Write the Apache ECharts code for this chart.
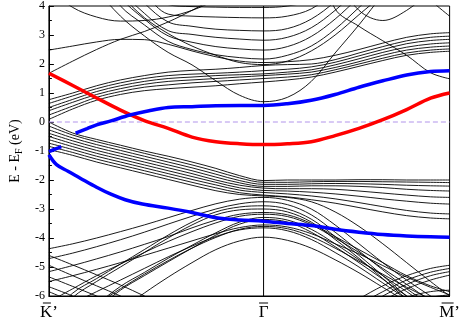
<!DOCTYPE html>
<html><head><meta charset="utf-8">
<script src="https://cdn.jsdelivr.net/npm/echarts@6/dist/echarts.min.js"></script>
<style>html,body{margin:0;padding:0;background:#fff}#c{width:463px;height:321px}</style>
</head><body><div id="c"></div>
<script>
// k-path positions (arbitrary distance units): K' = 0, Gamma = 225, M' = 420
const kGrid = [0,25,50,75,100,125,150,175,200,225,250,275,300,325,350,375,400,420];
const kPoints = [0, 225, 420];
const kLetters = ["K\u2019", "\u0393", "M\u2019"];
const yTicks = [-6,-5,-4,-3,-2,-1,0,1,2,3,4];
const fermiE = 0;

// highlighted bands
const redK = [0,25,50,75,100,125,150,175,200,225,250,275,300,325,350,375,400,420];
const redE = [1.68,1.26,0.83,0.41,0.05,-0.22,-0.52,-0.68,-0.75,-0.78,-0.75,-0.68,-0.47,-0.22,0.08,0.43,0.82,1.0];
const blueUpK1 = [0,7,13];
const blueUpE1 = [-1.02,-0.93,-0.85];
const blueUpK2 = [28,40,50,65,85,105,125,150,175,200,225,250,275,300,325,350,375,400,420];
const blueUpE2 = [-0.38,-0.23,-0.1,0.04,0.24,0.39,0.50,0.53,0.56,0.57,0.57,0.63,0.75,0.95,1.2,1.42,1.62,1.74,1.77];
const blueLoK = [0,8,20,32,50,65,80,98,125,150,175,200,225,250,275,300,325,350,375,400,420];
const blueLoE = [-1.13,-1.47,-1.7,-1.92,-2.25,-2.49,-2.68,-2.83,-2.97,-3.12,-3.3,-3.38,-3.42,-3.5,-3.57,-3.7,-3.8,-3.88,-3.93,-3.96,-3.97];

// black bands, energies on kGrid (values outside -6..4 run off the frame)
const C1 = [0.09,0.45,0.75,0.95,1.08,1.15,1.2,1.25,1.32,1.38,1.45,1.55,1.72,1.92,2.12,2.3,2.4,2.44];
const C2 = [0.24,0.55,0.85,1.05,1.2,1.28,1.35,1.4,1.45,1.5,1.55,1.63,1.8,2.0,2.2,2.38,2.48,2.52];
const C3 = [0.39,0.68,0.95,1.15,1.3,1.4,1.45,1.5,1.55,1.6,1.65,1.72,1.88,2.08,2.3,2.48,2.58,2.62];
const C4 = [0.50,0.78,1.05,1.25,1.4,1.5,1.55,1.6,1.63,1.66,1.72,1.8,1.97,2.18,2.4,2.58,2.69,2.73];
const C5 = [0.64,0.9,1.15,1.35,1.5,1.6,1.65,1.68,1.72,1.77,1.82,1.9,2.06,2.28,2.5,2.7,2.81,2.85];
const C6 = [0.77,1.0,1.25,1.45,1.6,1.72,1.78,1.82,1.88,1.95,1.98,2.0,2.15,2.38,2.6,2.8,2.92,2.96];
const C7 = [1.68,2.1,2.5,2.85,3.12,3.45,3.85,4.3,4.8,5.2,5.5,6,6,6,6,6,6,6];
const C8 = [2.48,2.62,2.76,2.85,2.84,2.68,2.45,2.25,2.1,2.05,2.08,2.15,2.3,2.5,2.72,2.92,3.04,3.08];
const U1 = [4.6,3.95,3.62,3.48,3.5,3.62,3.85,4.2,4.6,5,5.5,6,6,6,6,6,6,6];
const D1 = [6,6,6,6,6,6,6,6,6,6,6,6,3.9,3.3,2.8,2.3,1.7,1.49];
const D2 = [6,6,6,6,6,6,6,6,6,6,6,6,6,6,6,5,4.2,3.65];
const D3 = [6,6,6,6,6,6,6,6,6,6,6,6,5,3.85,3.5,3.85,4.5,5];
const P0 = [7,6,4.6,3.65,2.97,2.4,1.97,1.42,0.92,0.7,0.85,1.4,2.38,3.35,4.4,5.4,6.2,7];
const P1 = [6,6,5.2,4.0,3.35,2.78,2.5,2.32,2.22,2.17,2.3,2.62,3.2,3.95,4.7,5.4,6,6];
const P2 = [6,6,5.6,4.3,3.55,2.97,2.75,2.6,2.52,2.48,2.6,2.95,3.55,4.3,5,5.6,6,6];
const P3 = [6,6,6,4.6,3.75,3.15,3.02,2.92,2.86,2.82,2.92,3.25,3.85,4.6,5.3,6,6,6];
const P4 = [6,6,6,5,4.1,3.45,3.3,3.2,3.16,3.14,3.22,3.55,4.15,4.9,5.6,6,6,6];
const P5 = [6,6,6,5.4,4.45,3.72,3.65,3.62,3.6,3.59,3.65,3.9,4.5,5.2,6,6,6,6];
const P6 = [6,6,6,5.8,4.8,4.05,3.98,3.96,3.95,3.95,4.0,4.2,4.8,5.5,6,6,6,6];
const P7 = [6,6,5.4,4.4,3.6,3.05,2.62,2.3,2.05,1.98,2.1,2.45,3.0,3.7,4.4,5.2,6,6];
const V1 = [0.0,-0.38,-0.6,-0.8,-1.0,-1.18,-1.38,-1.6,-1.85,-2.02,-2.0,-2.0,-2.0,-1.99,-1.99,-2.0,-2.0,-2.0];
const V2 = [-0.14,-0.45,-0.68,-0.88,-1.08,-1.28,-1.48,-1.7,-1.93,-2.08,-2.08,-2.06,-2.05,-2.05,-2.06,-2.07,-2.08,-2.09];
const V3 = [-0.27,-0.55,-0.78,-0.98,-1.18,-1.38,-1.58,-1.8,-2.02,-2.15,-2.15,-2.13,-2.12,-2.13,-2.15,-2.18,-2.2,-2.21];
const V4 = [-0.39,-0.65,-0.88,-1.08,-1.28,-1.48,-1.68,-1.9,-2.1,-2.22,-2.22,-2.2,-2.2,-2.22,-2.26,-2.32,-2.36,-2.38];
const V5 = [-0.5,-0.75,-0.98,-1.18,-1.38,-1.58,-1.78,-2.0,-2.18,-2.28,-2.3,-2.3,-2.32,-2.38,-2.45,-2.52,-2.58,-2.6];
const V6 = [-0.61,-0.85,-1.08,-1.28,-1.48,-1.68,-1.88,-2.08,-2.27,-2.36,-2.38,-2.42,-2.48,-2.56,-2.65,-2.73,-2.8,-2.83];
const V7 = [-0.73,-0.95,-1.18,-1.38,-1.58,-1.78,-1.98,-2.17,-2.35,-2.43,-2.48,-2.55,-2.65,-2.78,-2.92,-3.05,-3.14,-3.17];
const V8 = [-0.84,-1.05,-1.28,-1.48,-1.68,-1.88,-2.08,-2.27,-2.44,-2.52,-2.58,-2.68,-2.8,-2.95,-3.1,-3.23,-3.31,-3.34];
const V9 = [-0.95,-1.15,-1.38,-1.58,-1.78,-1.98,-2.18,-2.37,-2.5,-2.55,-2.6,-2.75,-3.1,-3.6,-4.2,-4.85,-5.5,-6.0];
const W1 = [-4.37,-4.2,-4.0,-3.78,-3.55,-3.3,-3.05,-2.82,-2.66,-2.6,-2.7,-3.0,-3.55,-4.2,-4.85,-5.45,-6.0,-6.4];
const W2 = [-4.71,-4.52,-4.3,-4.06,-3.8,-3.52,-3.25,-3.0,-2.82,-2.75,-2.85,-3.2,-3.8,-4.45,-5.1,-5.75,-6.3,-6.7];
const W3 = [-6.8,-5.9,-5.4,-4.9,-4.4,-3.9,-3.45,-3.1,-2.93,-2.89,-3.0,-3.35,-3.95,-4.6,-5.3,-6.0,-6.6,-7];
const W4 = [-7,-6.05,-5.5,-5.0,-4.5,-4.0,-3.55,-3.2,-3.03,-3.0,-3.1,-3.45,-4.05,-4.7,-5.4,-6.1,-6.7,-7];
const W5 = [-5.16,-4.95,-4.72,-4.48,-4.22,-3.95,-3.65,-3.38,-3.18,-3.12,-3.2,-3.5,-3.95,-4.4,-4.85,-5.3,-5.65,-5.85];
const W6 = [-8,-7.5,-6.35,-5.67,-5.19,-4.7,-4.25,-3.82,-3.45,-3.29,-3.38,-3.7,-4.2,-4.75,-5.3,-5.85,-6.4,-6.8];
const W7 = [-8,-7.6,-6.5,-5.8,-5.3,-4.82,-4.35,-3.9,-3.52,-3.36,-3.45,-3.8,-4.3,-4.85,-5.42,-6.0,-6.5,-6.9];
const W8 = [-5.5,-5.3,-5.08,-4.85,-4.6,-4.35,-4.1,-3.85,-3.64,-3.55,-3.62,-3.85,-4.2,-4.55,-4.95,-5.35,-5.7,-5.96];
const W9 = [-6.2,-5.75,-5.3,-4.9,-4.5,-4.12,-3.78,-3.48,-3.25,-3.18,-3.26,-3.55,-4.0,-4.5,-5.05,-5.6,-6.15,-6.5];
const W10 = [-7.4,-6.9,-6.3,-5.75,-5.25,-4.78,-4.35,-3.98,-3.7,-3.6,-3.68,-3.95,-4.35,-4.8,-5.25,-5.7,-6.1,-6.4];
const W11 = [-6.6,-6.25,-5.85,-5.45,-5.05,-4.65,-4.28,-3.95,-3.72,-3.65,-3.75,-4.05,-4.5,-5.0,-5.55,-6.1,-6.6,-7];
const L1 = [-9,-8,-7.2,-6.5,-5.9,-5.35,-4.85,-4.4,-4.1,-3.97,-4.08,-4.35,-4.75,-5.2,-5.7,-6.2,-6.7,-7];
const DL1 = [-4.6,-4.93,-5.27,-5.62,-6.0,-6.4,-6.8,-7.1,-7.3,-7.4,-7.3,-7.0,-6.6,-6.1,-5.65,-5.3,-5.05,-4.94];
const DL2 = [-4.94,-5.3,-5.65,-6.0,-6.4,-6.8,-7.1,-7.3,-7.5,-7.6,-7.5,-7.2,-6.8,-6.3,-5.85,-5.45,-5.18,-5.05];
const DL3 = [-5.34,-5.67,-6.0,-6.35,-6.7,-7,-7.3,-7.5,-7.6,-7.7,-7.6,-7.4,-7.0,-6.5,-6.0,-5.6,-5.3,-5.16];
const DL4 = [-5.68,-6.0,-6.35,-6.7,-7,-7.3,-7.5,-7.7,-7.8,-7.8,-7.8,-7.6,-7.3,-6.9,-6.45,-6.05,-5.85,-5.8];
const DL5 = [-5.85,-6.2,-6.55,-6.9,-7.2,-7.5,-7.7,-7.8,-7.9,-7.9,-7.9,-7.8,-7.5,-7.1,-6.7,-6.3,-6.05,-5.96];
const DL6 = [-8,-7.8,-7.6,-7.4,-7.2,-7.1,-7.0,-7.0,-7.0,-7.0,-7.0,-6.95,-6.8,-6.5,-6.15,-5.75,-5.45,-5.28];

const blackBands = [C1,C2,C3,C4,C5,C6,C7,C8,U1,D1,D2,D3,P0,P1,P2,P3,P4,P5,P6,P7,
  V1,V2,V3,V4,V5,V6,V7,V8,V9,W1,W2,W3,W4,W5,W6,W7,W8,W9,W10,W11,L1,
  DL1,DL2,DL3,DL4,DL5,DL6];

const serif = 'Liberation Serif';
const zip = (ks, es) => ks.map((k, i) => [k, es[i]]);

const series = [];
blackBands.forEach(b => series.push({
  type: 'line', data: zip(kGrid, b), smooth: 0.35, showSymbol: false, silent: true,
  clip: true, z: 2, color: '#000', lineStyle: { color: '#000', width: 0.9 }
}));
// Gamma vertical line
series.push({
  type: 'line', data: [[kPoints[1], yTicks[0]], [kPoints[1], yTicks[yTicks.length - 1]]],
  showSymbol: false, silent: true, z: 3, color: '#000', lineStyle: { color: '#000', width: 1 }
});
// Fermi level
series.push({
  type: 'line', data: [[kPoints[0], fermiE], [kPoints[2], fermiE]],
  showSymbol: false, silent: true, z: 3, color: '#b194ea',
  lineStyle: { color: '#b194ea', width: 1, type: [5, 3] }
});
const colored = [[redK, redE, '#ff0000'], [blueUpK1, blueUpE1, '#0000ff'], [blueUpK2, blueUpE2, '#0000ff'], [blueLoK, blueLoE, '#0000ff']];
colored.forEach(([ks, es, c]) => series.push({
  type: 'line', data: zip(ks, es), smooth: 0.35, showSymbol: false, silent: true,
  clip: true, z: 4, color: c, lineStyle: { color: c, width: 3.5 }
}));

const barRich = {
  bk: { width: 8, height: 1, backgroundColor: '#000', lineHeight: 6 },
  bg: { width: 9, height: 1, backgroundColor: '#000', lineHeight: 6 },
  bm: { width: 12, height: 1, backgroundColor: '#000', lineHeight: 6 },
  sp: { width: 4, height: 1, lineHeight: 6 },
  t: { fontFamily: serif, fontSize: 17, color: '#000', lineHeight: 13 }
};
const barTag = ['{bk|}{sp|}', '{bg|}', '{bm|}{sp|}'];

const chart = echarts.init(document.getElementById('c'), null, { renderer: 'canvas' });
chart.setOption({
  animation: false,
  backgroundColor: '#fff',
  grid: { left: 35, right: 8, top: 5, bottom: 23, show: true, borderColor: '#000', borderWidth: 1, backgroundColor: 'transparent' },
  xAxis: {
    type: 'value', min: kPoints[0], max: kPoints[2], interval: 15,
    axisLine: { onZero: false, lineStyle: { color: '#000' } }, axisTick: { show: false }, splitLine: { show: false },
    axisLabel: {
      color: '#000', fontFamily: serif, fontSize: 17, margin: 4, rich: barRich,
      formatter: v => { const i = kPoints.indexOf(v); return i >= 0 ? barTag[i] + '\n{t|' + kLetters[i] + '}' : ''; }
    }
  },
  yAxis: {
    type: 'value', min: yTicks[0], max: yTicks[yTicks.length - 1], interval: 1,
    axisLine: { onZero: false, lineStyle: { color: '#000' } },
    axisTick: { inside: true, length: 5, lineStyle: { color: '#000' } },
    minorTick: { show: true, splitNumber: 2, length: 3, lineStyle: { color: '#000' } },
    splitLine: { show: false },
    axisLabel: { color: '#000', fontFamily: serif, fontSize: 12, margin: 4 },
    name: '{a|E - E}{s|F}{a| (eV)}', nameLocation: 'middle', nameGap: 20,
    nameTextStyle: {
      color: '#000', fontFamily: serif, fontSize: 14,
      rich: {
        a: { fontFamily: serif, fontSize: 14, color: '#000', lineHeight: 18 },
        s: { fontFamily: serif, fontSize: 10, color: '#000', lineHeight: 18, verticalAlign: 'bottom', padding: [6, 0, 0, 0] }
      }
    }
  },
  series
});
</script></body></html>
